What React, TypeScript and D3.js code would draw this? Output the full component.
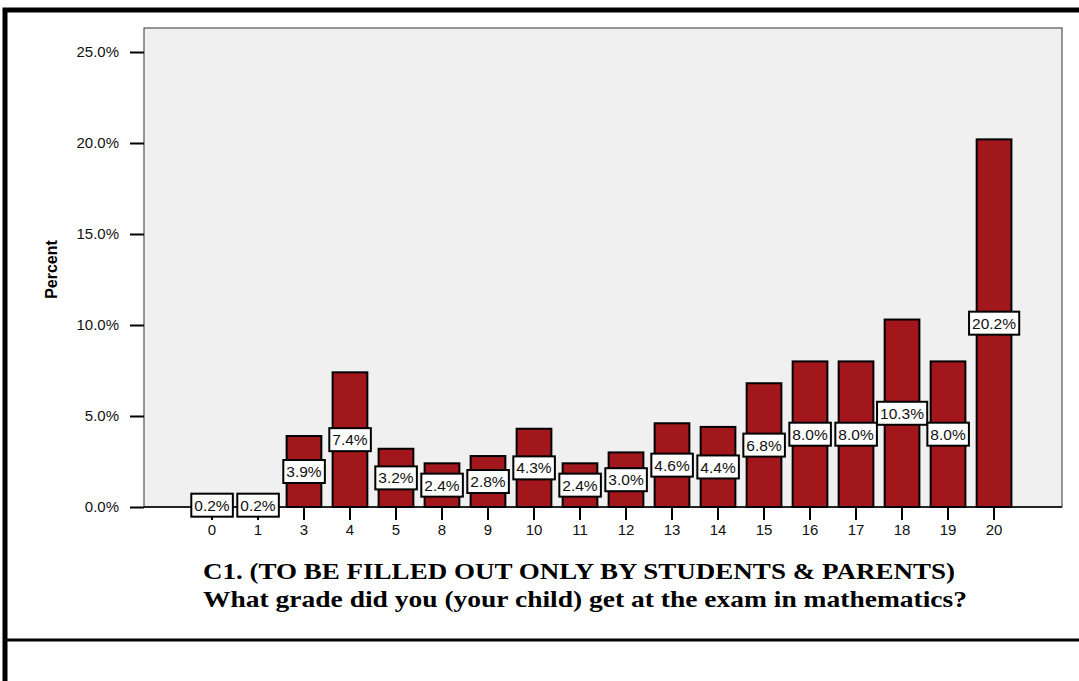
import { useEffect, useRef } from "react";
import * as d3 from "d3";

// grade categories and percent of respondents
const grades = ["0", "1", "3", "4", "5", "8", "9", "10", "11", "12", "13", "14", "15", "16", "17", "18", "19", "20"];
const percents = [0.2, 0.2, 3.9, 7.4, 3.2, 2.4, 2.8, 4.3, 2.4, 3.0, 4.6, 4.4, 6.8, 8.0, 8.0, 10.3, 8.0, 20.2];
const yTicks = [0, 5, 10, 15, 20, 25];
const titleLines = [
  "C1. (TO BE FILLED OUT ONLY BY STUDENTS & PARENTS)",
  "What grade did you (your child) get at the exam in mathematics?",
];
const titleWidths = [752, 764];

const SANS = "Arial, 'Liberation Sans', sans-serif";

export default function App() {
  const ref = useRef<SVGSVGElement | null>(null);

  useEffect(() => {
    if (!ref.current) return;
    const svg = d3.select(ref.current);
    svg.selectAll("*").remove();
    const W = 1079;
    const H = 681;
    const plot = { left: 144, right: 1062, top: 28, bottom: 507 };

    // outer frame
    svg.append("rect")
      .attr("x", 5).attr("y", 10).attr("width", W + 20).attr("height", H + 20)
      .attr("fill", "white").attr("stroke", "black").attr("stroke-width", 5);
    svg.append("line")
      .attr("x1", 5).attr("x2", W + 10).attr("y1", 640).attr("y2", 640)
      .attr("stroke", "black").attr("stroke-width", 3);

    const x = d3.scaleBand<string>().domain(grades)
      .range([plot.left, plot.right]).paddingInner(0.245).paddingOuter(1.1);
    const y = d3.scaleLinear().domain([0, 25]).range([plot.bottom, 52]);

    // plot background
    svg.append("rect")
      .attr("x", plot.left).attr("y", plot.top)
      .attr("width", plot.right - plot.left).attr("height", plot.bottom - plot.top)
      .attr("fill", "#f0f0f0").attr("stroke", "#333").attr("stroke-width", 1);

    // y axis
    const yAxis = svg.append("g").attr("transform", `translate(${plot.left},0)`)
      .call(d3.axisLeft(y).tickValues(yTicks).tickSize(14).tickSizeOuter(0).tickPadding(11)
        .tickFormat(d => `${(+d).toFixed(1)}%`));
    yAxis.select(".domain").remove();
    yAxis.selectAll("line").attr("stroke", "black").attr("stroke-width", 2);
    yAxis.selectAll("text").attr("font-family", SANS)
      .attr("font-size", 15).attr("fill", "#111");

    // bars
    svg.append("g").selectAll("rect").data(percents).join("rect")
      .attr("x", (_, i) => x(grades[i])!)
      .attr("y", d => y(d))
      .attr("width", x.bandwidth())
      .attr("height", d => plot.bottom - y(d))
      .attr("fill", "#a1171c").attr("stroke", "black").attr("stroke-width", 2);

    // x axis
    const xAxis = svg.append("g").attr("transform", `translate(0,${plot.bottom})`)
      .call(d3.axisBottom(x).tickSize(13).tickSizeOuter(0).tickPadding(4));
    xAxis.select(".domain").attr("d", `M${plot.left},0H${plot.right}`).attr("stroke", "black").attr("stroke-width", 1.5);
    xAxis.selectAll("line").attr("stroke", "black").attr("stroke-width", 2);
    xAxis.selectAll("text").attr("font-family", SANS)
      .attr("font-size", 15).attr("fill", "#111");

    // value labels
    const labels = svg.append("g").selectAll("g").data(percents).join("g")
      .attr("transform", (d, i) => `translate(${x(grades[i])! + x.bandwidth() / 2},${(y(d) + plot.bottom) / 2})`);
    labels.append("text")
      .attr("text-anchor", "middle").attr("dy", "0.36em")
      .attr("font-family", SANS).attr("font-size", 15.5).attr("fill", "#111")
      .text(d => `${d.toFixed(1)}%`);
    labels.each(function () {
      const g = d3.select(this);
      const bb = (g.select("text").node() as SVGTextElement).getBBox();
      g.insert("rect", "text")
        .attr("x", bb.x - 3).attr("y", -11.5).attr("width", bb.width + 6).attr("height", 23)
        .attr("fill", "white").attr("stroke", "black").attr("stroke-width", 2);
    });

    // axis title
    svg.append("text")
      .attr("transform", `translate(57,${(plot.top + plot.bottom) / 2 + 2}) rotate(-90)`)
      .attr("text-anchor", "middle")
      .attr("font-family", SANS).attr("font-weight", "bold").attr("font-size", 16).attr("fill", "black")
      .text("Percent");

    // x title
    svg.append("g").selectAll("text").data(titleLines).join("text")
      .attr("x", (_, i) => 203 + titleWidths[i] / 2)
      .attr("y", (_, i) => 579 + i * 28)
      .attr("text-anchor", "middle")
      .attr("font-family", "'Times New Roman', 'Liberation Serif', serif")
      .attr("font-weight", "bold").attr("font-size", 24).attr("fill", "black")
      .attr("textLength", (_, i) => titleWidths[i])
      .attr("lengthAdjust", "spacingAndGlyphs")
      .text(d => d);
  }, []);

  return (
    <svg ref={ref} width={1079} height={681}
      style={{ position: "absolute", left: 0, top: 0, background: "white" }} />
  );
}
